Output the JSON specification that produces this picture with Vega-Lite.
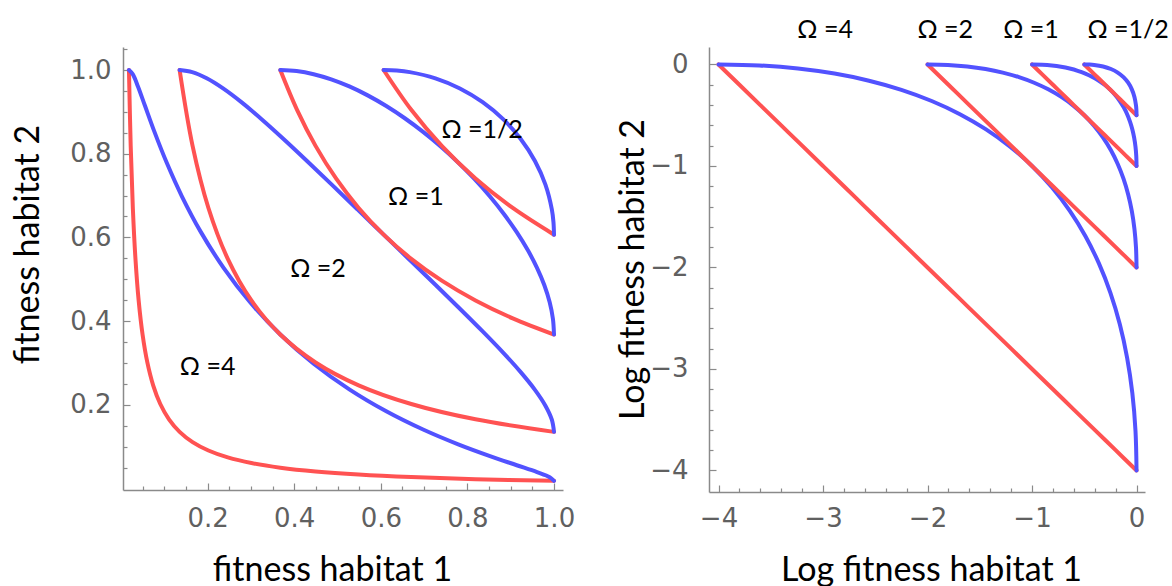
{
  "$schema": "https://vega.github.io/schema/vega-lite/v6.json",
  "autosize": {"type": "none"},
  "bounds": "flush",
  "padding": {"left": 123, "top": 47, "right": 1049, "bottom": 539},
  "spacing": 146,
  "config": {
    "view": {"stroke": null},
    "axis": {
      "grid": false,
      "domainColor": "#8a8a8a",
      "domainWidth": 1.5,
      "tickColor": "#8a8a8a",
      "tickWidth": 1.2,
      "labelColor": "#606060",
      "labelFont": "DejaVu Sans",
      "labelFontSize": 26,
      "labelOverlap": false,
      "labelFlush": false,
      "titleFont": "Lato",
      "titleFontSize": 34,
      "titleFontWeight": "normal",
      "titleColor": "#000000"
    }
  },
  "datasets": {
    "curves": [
      {"s":"1r","c":"r","i":0,"lx":-4,"ly":0,"fx":0.01832,"fy":1},
      {"s":"1r","c":"r","i":1,"lx":-3.8,"ly":-0.2,"fx":0.02237,"fy":0.81873},
      {"s":"1r","c":"r","i":2,"lx":-3.6,"ly":-0.4,"fx":0.02732,"fy":0.67032},
      {"s":"1r","c":"r","i":3,"lx":-3.4,"ly":-0.6,"fx":0.03337,"fy":0.54881},
      {"s":"1r","c":"r","i":4,"lx":-3.2,"ly":-0.8,"fx":0.04076,"fy":0.44933},
      {"s":"1r","c":"r","i":5,"lx":-3.0,"ly":-1.0,"fx":0.04979,"fy":0.36788},
      {"s":"1r","c":"r","i":6,"lx":-2.8,"ly":-1.2,"fx":0.06081,"fy":0.30119},
      {"s":"1r","c":"r","i":7,"lx":-2.6,"ly":-1.4,"fx":0.07427,"fy":0.24660},
      {"s":"1r","c":"r","i":8,"lx":-2.4,"ly":-1.6,"fx":0.09072,"fy":0.20190},
      {"s":"1r","c":"r","i":9,"lx":-2.2,"ly":-1.8,"fx":0.11080,"fy":0.16530},
      {"s":"1r","c":"r","i":10,"lx":-2.0,"ly":-2.0,"fx":0.13534,"fy":0.13534},
      {"s":"1r","c":"r","i":11,"lx":-1.8,"ly":-2.2,"fx":0.16530,"fy":0.11080},
      {"s":"1r","c":"r","i":12,"lx":-1.6,"ly":-2.4,"fx":0.20190,"fy":0.09072},
      {"s":"1r","c":"r","i":13,"lx":-1.4,"ly":-2.6,"fx":0.24660,"fy":0.07427},
      {"s":"1r","c":"r","i":14,"lx":-1.2,"ly":-2.8,"fx":0.30119,"fy":0.06081},
      {"s":"1r","c":"r","i":15,"lx":-1.0,"ly":-3.0,"fx":0.36788,"fy":0.04979},
      {"s":"1r","c":"r","i":16,"lx":-0.8,"ly":-3.2,"fx":0.44933,"fy":0.04076},
      {"s":"1r","c":"r","i":17,"lx":-0.6,"ly":-3.4,"fx":0.54881,"fy":0.03337},
      {"s":"1r","c":"r","i":18,"lx":-0.4,"ly":-3.6,"fx":0.67032,"fy":0.02732},
      {"s":"1r","c":"r","i":19,"lx":-0.2,"ly":-3.8,"fx":0.81873,"fy":0.02237},
      {"s":"1r","c":"r","i":20,"lx":0,"ly":-4,"fx":1,"fy":0.01832},

      {"s":"2b","c":"b","i":0,"lx":-4,"ly":0,"fx":0.01832,"fy":1},
      {"s":"2b","c":"b","i":1,"lx":-3.61,"ly":-0.01,"fx":0.02705,"fy":0.99005},
      {"s":"2b","c":"b","i":2,"lx":-3.24,"ly":-0.04,"fx":0.03916,"fy":0.96079},
      {"s":"2b","c":"b","i":3,"lx":-2.89,"ly":-0.09,"fx":0.05558,"fy":0.91393},
      {"s":"2b","c":"b","i":4,"lx":-2.56,"ly":-0.16,"fx":0.07730,"fy":0.85214},
      {"s":"2b","c":"b","i":5,"lx":-2.25,"ly":-0.25,"fx":0.10540,"fy":0.77880},
      {"s":"2b","c":"b","i":6,"lx":-1.96,"ly":-0.36,"fx":0.14086,"fy":0.69768},
      {"s":"2b","c":"b","i":7,"lx":-1.69,"ly":-0.49,"fx":0.18452,"fy":0.61263},
      {"s":"2b","c":"b","i":8,"lx":-1.44,"ly":-0.64,"fx":0.23693,"fy":0.52729},
      {"s":"2b","c":"b","i":9,"lx":-1.21,"ly":-0.81,"fx":0.29820,"fy":0.44486},
      {"s":"2b","c":"b","i":10,"lx":-1,"ly":-1,"fx":0.36788,"fy":0.36788},
      {"s":"2b","c":"b","i":11,"lx":-0.81,"ly":-1.21,"fx":0.44486,"fy":0.29820},
      {"s":"2b","c":"b","i":12,"lx":-0.64,"ly":-1.44,"fx":0.52729,"fy":0.23693},
      {"s":"2b","c":"b","i":13,"lx":-0.49,"ly":-1.69,"fx":0.61263,"fy":0.18452},
      {"s":"2b","c":"b","i":14,"lx":-0.36,"ly":-1.96,"fx":0.69768,"fy":0.14086},
      {"s":"2b","c":"b","i":15,"lx":-0.25,"ly":-2.25,"fx":0.77880,"fy":0.10540},
      {"s":"2b","c":"b","i":16,"lx":-0.16,"ly":-2.56,"fx":0.85214,"fy":0.07730},
      {"s":"2b","c":"b","i":17,"lx":-0.09,"ly":-2.89,"fx":0.91393,"fy":0.05558},
      {"s":"2b","c":"b","i":18,"lx":-0.04,"ly":-3.24,"fx":0.96079,"fy":0.03916},
      {"s":"2b","c":"b","i":19,"lx":-0.01,"ly":-3.61,"fx":0.99005,"fy":0.02705},
      {"s":"2b","c":"b","i":20,"lx":0,"ly":-4,"fx":1,"fy":0.01832},

      {"s":"3r","c":"r","i":0,"lx":-2,"ly":0,"fx":0.13534,"fy":1},
      {"s":"3r","c":"r","i":1,"lx":-1.8,"ly":-0.2,"fx":0.16530,"fy":0.81873},
      {"s":"3r","c":"r","i":2,"lx":-1.6,"ly":-0.4,"fx":0.20190,"fy":0.67032},
      {"s":"3r","c":"r","i":3,"lx":-1.4,"ly":-0.6,"fx":0.24660,"fy":0.54881},
      {"s":"3r","c":"r","i":4,"lx":-1.2,"ly":-0.8,"fx":0.30119,"fy":0.44933},
      {"s":"3r","c":"r","i":5,"lx":-1,"ly":-1,"fx":0.36788,"fy":0.36788},
      {"s":"3r","c":"r","i":6,"lx":-0.8,"ly":-1.2,"fx":0.44933,"fy":0.30119},
      {"s":"3r","c":"r","i":7,"lx":-0.6,"ly":-1.4,"fx":0.54881,"fy":0.24660},
      {"s":"3r","c":"r","i":8,"lx":-0.4,"ly":-1.6,"fx":0.67032,"fy":0.20190},
      {"s":"3r","c":"r","i":9,"lx":-0.2,"ly":-1.8,"fx":0.81873,"fy":0.16530},
      {"s":"3r","c":"r","i":10,"lx":0,"ly":-2,"fx":1,"fy":0.13534},

      {"s":"4b","c":"b","i":0,"lx":-2,"ly":0,"fx":0.13534,"fy":1},
      {"s":"4b","c":"b","i":1,"lx":-1.805,"ly":-0.005,"fx":0.16447,"fy":0.99501},
      {"s":"4b","c":"b","i":2,"lx":-1.62,"ly":-0.02,"fx":0.19790,"fy":0.98020},
      {"s":"4b","c":"b","i":3,"lx":-1.445,"ly":-0.045,"fx":0.23575,"fy":0.95600},
      {"s":"4b","c":"b","i":4,"lx":-1.28,"ly":-0.08,"fx":0.27804,"fy":0.92312},
      {"s":"4b","c":"b","i":5,"lx":-1.125,"ly":-0.125,"fx":0.32465,"fy":0.88250},
      {"s":"4b","c":"b","i":6,"lx":-0.98,"ly":-0.18,"fx":0.37531,"fy":0.83527},
      {"s":"4b","c":"b","i":7,"lx":-0.845,"ly":-0.245,"fx":0.42956,"fy":0.78270},
      {"s":"4b","c":"b","i":8,"lx":-0.72,"ly":-0.32,"fx":0.48675,"fy":0.72615},
      {"s":"4b","c":"b","i":9,"lx":-0.605,"ly":-0.405,"fx":0.54607,"fy":0.66698},
      {"s":"4b","c":"b","i":10,"lx":-0.5,"ly":-0.5,"fx":0.60653,"fy":0.60653},
      {"s":"4b","c":"b","i":11,"lx":-0.405,"ly":-0.605,"fx":0.66698,"fy":0.54607},
      {"s":"4b","c":"b","i":12,"lx":-0.32,"ly":-0.72,"fx":0.72615,"fy":0.48675},
      {"s":"4b","c":"b","i":13,"lx":-0.245,"ly":-0.845,"fx":0.78270,"fy":0.42956},
      {"s":"4b","c":"b","i":14,"lx":-0.18,"ly":-0.98,"fx":0.83527,"fy":0.37531},
      {"s":"4b","c":"b","i":15,"lx":-0.125,"ly":-1.125,"fx":0.88250,"fy":0.32465},
      {"s":"4b","c":"b","i":16,"lx":-0.08,"ly":-1.28,"fx":0.92312,"fy":0.27804},
      {"s":"4b","c":"b","i":17,"lx":-0.045,"ly":-1.445,"fx":0.95600,"fy":0.23575},
      {"s":"4b","c":"b","i":18,"lx":-0.02,"ly":-1.62,"fx":0.98020,"fy":0.19790},
      {"s":"4b","c":"b","i":19,"lx":-0.005,"ly":-1.805,"fx":0.99501,"fy":0.16447},
      {"s":"4b","c":"b","i":20,"lx":0,"ly":-2,"fx":1,"fy":0.13534},

      {"s":"5r","c":"r","i":0,"lx":-1,"ly":0,"fx":0.36788,"fy":1},
      {"s":"5r","c":"r","i":1,"lx":-0.9,"ly":-0.1,"fx":0.40657,"fy":0.90484},
      {"s":"5r","c":"r","i":2,"lx":-0.8,"ly":-0.2,"fx":0.44933,"fy":0.81873},
      {"s":"5r","c":"r","i":3,"lx":-0.7,"ly":-0.3,"fx":0.49659,"fy":0.74082},
      {"s":"5r","c":"r","i":4,"lx":-0.6,"ly":-0.4,"fx":0.54881,"fy":0.67032},
      {"s":"5r","c":"r","i":5,"lx":-0.5,"ly":-0.5,"fx":0.60653,"fy":0.60653},
      {"s":"5r","c":"r","i":6,"lx":-0.4,"ly":-0.6,"fx":0.67032,"fy":0.54881},
      {"s":"5r","c":"r","i":7,"lx":-0.3,"ly":-0.7,"fx":0.74082,"fy":0.49659},
      {"s":"5r","c":"r","i":8,"lx":-0.2,"ly":-0.8,"fx":0.81873,"fy":0.44933},
      {"s":"5r","c":"r","i":9,"lx":-0.1,"ly":-0.9,"fx":0.90484,"fy":0.40657},
      {"s":"5r","c":"r","i":10,"lx":0,"ly":-1,"fx":1,"fy":0.36788},

      {"s":"6b","c":"b","i":0,"lx":-1,"ly":0,"fx":0.36788,"fy":1},
      {"s":"6b","c":"b","i":1,"lx":-0.9025,"ly":-0.0025,"fx":0.40556,"fy":0.99750},
      {"s":"6b","c":"b","i":2,"lx":-0.81,"ly":-0.01,"fx":0.44486,"fy":0.99005},
      {"s":"6b","c":"b","i":3,"lx":-0.7225,"ly":-0.0225,"fx":0.48554,"fy":0.97775},
      {"s":"6b","c":"b","i":4,"lx":-0.64,"ly":-0.04,"fx":0.52729,"fy":0.96079},
      {"s":"6b","c":"b","i":5,"lx":-0.5625,"ly":-0.0625,"fx":0.56978,"fy":0.93941},
      {"s":"6b","c":"b","i":6,"lx":-0.49,"ly":-0.09,"fx":0.61263,"fy":0.91393},
      {"s":"6b","c":"b","i":7,"lx":-0.4225,"ly":-0.1225,"fx":0.65541,"fy":0.88471},
      {"s":"6b","c":"b","i":8,"lx":-0.36,"ly":-0.16,"fx":0.69768,"fy":0.85214},
      {"s":"6b","c":"b","i":9,"lx":-0.3025,"ly":-0.2025,"fx":0.73897,"fy":0.81669},
      {"s":"6b","c":"b","i":10,"lx":-0.25,"ly":-0.25,"fx":0.77880,"fy":0.77880},
      {"s":"6b","c":"b","i":11,"lx":-0.2025,"ly":-0.3025,"fx":0.81669,"fy":0.73897},
      {"s":"6b","c":"b","i":12,"lx":-0.16,"ly":-0.36,"fx":0.85214,"fy":0.69768},
      {"s":"6b","c":"b","i":13,"lx":-0.1225,"ly":-0.4225,"fx":0.88471,"fy":0.65541},
      {"s":"6b","c":"b","i":14,"lx":-0.09,"ly":-0.49,"fx":0.91393,"fy":0.61263},
      {"s":"6b","c":"b","i":15,"lx":-0.0625,"ly":-0.5625,"fx":0.93941,"fy":0.56978},
      {"s":"6b","c":"b","i":16,"lx":-0.04,"ly":-0.64,"fx":0.96079,"fy":0.52729},
      {"s":"6b","c":"b","i":17,"lx":-0.0225,"ly":-0.7225,"fx":0.97775,"fy":0.48554},
      {"s":"6b","c":"b","i":18,"lx":-0.01,"ly":-0.81,"fx":0.99005,"fy":0.44486},
      {"s":"6b","c":"b","i":19,"lx":-0.0025,"ly":-0.9025,"fx":0.99750,"fy":0.40556},
      {"s":"6b","c":"b","i":20,"lx":0,"ly":-1,"fx":1,"fy":0.36788},

      {"s":"7r","c":"r","i":0,"lx":-0.5,"ly":0,"fx":0.60653,"fy":1},
      {"s":"7r","c":"r","i":1,"lx":-0.4,"ly":-0.1,"fx":0.67032,"fy":0.90484},
      {"s":"7r","c":"r","i":2,"lx":-0.3,"ly":-0.2,"fx":0.74082,"fy":0.81873},
      {"s":"7r","c":"r","i":3,"lx":-0.2,"ly":-0.3,"fx":0.81873,"fy":0.74082},
      {"s":"7r","c":"r","i":4,"lx":-0.1,"ly":-0.4,"fx":0.90484,"fy":0.67032},
      {"s":"7r","c":"r","i":5,"lx":0,"ly":-0.5,"fx":1,"fy":0.60653},

      {"s":"8b","c":"b","i":0,"lx":-0.5,"ly":0,"fx":0.60653,"fy":1},
      {"s":"8b","c":"b","i":1,"lx":-0.45125,"ly":-0.00125,"fx":0.63683,"fy":0.99875},
      {"s":"8b","c":"b","i":2,"lx":-0.405,"ly":-0.005,"fx":0.66698,"fy":0.99501},
      {"s":"8b","c":"b","i":3,"lx":-0.32,"ly":-0.02,"fx":0.72615,"fy":0.98020},
      {"s":"8b","c":"b","i":4,"lx":-0.245,"ly":-0.045,"fx":0.78270,"fy":0.95600},
      {"s":"8b","c":"b","i":5,"lx":-0.18,"ly":-0.08,"fx":0.83527,"fy":0.92312},
      {"s":"8b","c":"b","i":6,"lx":-0.125,"ly":-0.125,"fx":0.88250,"fy":0.88250},
      {"s":"8b","c":"b","i":7,"lx":-0.08,"ly":-0.18,"fx":0.92312,"fy":0.83527},
      {"s":"8b","c":"b","i":8,"lx":-0.045,"ly":-0.245,"fx":0.95600,"fy":0.78270},
      {"s":"8b","c":"b","i":9,"lx":-0.02,"ly":-0.32,"fx":0.98020,"fy":0.72615},
      {"s":"8b","c":"b","i":10,"lx":-0.005,"ly":-0.405,"fx":0.99501,"fy":0.66698},
      {"s":"8b","c":"b","i":11,"lx":-0.00125,"ly":-0.45125,"fx":0.99875,"fy":0.63683},
      {"s":"8b","c":"b","i":12,"lx":0,"ly":-0.5,"fx":1,"fy":0.60653}
    ],
    "labL": [
      {"t":"Ω =1/2","x":0.834,"y":0.8375},
      {"t":"Ω =1","x":0.681,"y":0.677},
      {"t":"Ω =2","x":0.455,"y":0.505},
      {"t":"Ω =4","x":0.200,"y":0.271}
    ],
    "labR": [
      {"t":"Ω =4","x":-2.98,"y":0.261},
      {"t":"Ω =2","x":-1.83,"y":0.261},
      {"t":"Ω =1","x":-1.01,"y":0.261},
      {"t":"Ω =1/2","x":-0.08,"y":0.261}
    ]
  },
  "hconcat": [
    {
      "width": 440,
      "height": 443,
      "resolve": {"axis": {"x": "independent", "y": "independent"}},
      "layer": [
        {
          "data": {"name": "curves"},
          "mark": {"type": "line", "strokeWidth": 4, "interpolate": "catmull-rom", "strokeCap": "round", "strokeJoin": "round"},
          "encoding": {
            "x": {
              "field": "fx", "type": "quantitative",
              "scale": {"domain": [0.0046, 1.0208], "nice": false, "zero": false},
              "axis": {
                "orient": "bottom",
                "values": [0.2, 0.4, 0.6, 0.8, 1.0],
                "format": ".1f",
                "tickSize": -7,
                "labelPadding": 22,
                "labelOverlap": false,
                "labelFlush": false,
                "title": "fitness habitat 1",
                "titleX": 209, "titleY": 90, "titleAlign": "center", "titleBaseline": "alphabetic"
              }
            },
            "y": {
              "field": "fy", "type": "quantitative",
              "scale": {"domain": [-0.0036, 1.055], "nice": false, "zero": false},
              "axis": {
                "orient": "left",
                "values": [0.2, 0.4, 0.6, 0.8, 1.0],
                "format": ".1f",
                "tickSize": -7,
                "labelPadding": 19,
                "labelOverlap": false,
                "labelFlush": false,
                "title": "fitness habitat 2",
                "titleX": -85, "titleY": 197, "titleAlign": "center", "titleBaseline": "alphabetic"
              }
            },
            "detail": {"field": "s"},
            "color": {"field": "c", "type": "nominal", "scale": {"domain": ["r", "b"], "range": ["#ff5252", "#5252ff"]}, "legend": null},
            "order": {"field": "i", "type": "quantitative"}
          }
        },
        {
          "data": {"name": "labL"},
          "mark": {"type": "text", "font": "Lato", "fontSize": 25, "align": "center", "baseline": "alphabetic", "color": "#000000"},
          "encoding": {
            "x": {
              "field": "x", "type": "quantitative",
              "axis": {
                "orient": "bottom",
                "values": [0.05,0.1,0.15,0.25,0.3,0.35,0.45,0.5,0.55,0.65,0.7,0.75,0.85,0.9,0.95],
                "labels": false, "domain": false, "tickSize": -4, "title": null
              }
            },
            "y": {
              "field": "y", "type": "quantitative",
              "axis": {
                "orient": "left",
                "values": [0.05,0.1,0.15,0.25,0.3,0.35,0.45,0.5,0.55,0.65,0.7,0.75,0.85,0.9,0.95,1.05],
                "labels": false, "domain": false, "tickSize": -4, "title": null
              }
            },
            "text": {"field": "t"}
          }
        }
      ]
    },
    {
      "width": 436,
      "height": 445,
      "resolve": {"axis": {"x": "independent", "y": "independent"}},
      "layer": [
        {
          "data": {"name": "curves"},
          "mark": {"type": "line", "strokeWidth": 4, "interpolate": "catmull-rom", "strokeCap": "round", "strokeJoin": "round"},
          "encoding": {
            "x": {
              "field": "lx", "type": "quantitative",
              "scale": {"domain": [-4.091, 0.081], "nice": false, "zero": false},
              "axis": {
                "orient": "bottom",
                "values": [-4, -3, -2, -1, 0],
                "format": "d",
                "tickSize": -7,
                "labelPadding": 20,
                "labelOverlap": false,
                "labelFlush": false,
                "title": "Log fitness habitat 1",
                "titleX": 222, "titleY": 88, "titleAlign": "center", "titleBaseline": "alphabetic"
              }
            },
            "y": {
              "field": "ly", "type": "quantitative",
              "scale": {"domain": [-4.212, 0.172], "nice": false, "zero": false},
              "axis": {
                "orient": "left",
                "values": [-4, -3, -2, -1, 0],
                "format": "d",
                "tickSize": -7,
                "labelPadding": 28,
                "labelOverlap": false,
                "labelFlush": false,
                "title": "Log fitness habitat 2",
                "titleX": -66, "titleY": 222, "titleAlign": "center", "titleBaseline": "alphabetic"
              }
            },
            "detail": {"field": "s"},
            "color": {"field": "c", "type": "nominal", "scale": {"domain": ["r", "b"], "range": ["#ff5252", "#5252ff"]}, "legend": null},
            "order": {"field": "i", "type": "quantitative"}
          }
        },
        {
          "data": {"name": "labR"},
          "mark": {"type": "text", "font": "Lato", "fontSize": 25, "align": "center", "baseline": "alphabetic", "color": "#000000"},
          "encoding": {
            "x": {
              "field": "x", "type": "quantitative",
              "axis": {
                "orient": "bottom",
                "values": [-3.8,-3.6,-3.4,-3.2,-2.8,-2.6,-2.4,-2.2,-1.8,-1.6,-1.4,-1.2,-0.8,-0.6,-0.4,-0.2],
                "labels": false, "domain": false, "tickSize": -4, "title": null
              }
            },
            "y": {
              "field": "y", "type": "quantitative",
              "axis": {
                "orient": "left",
                "values": [-3.8,-3.6,-3.4,-3.2,-2.8,-2.6,-2.4,-2.2,-1.8,-1.6,-1.4,-1.2,-0.8,-0.6,-0.4,-0.2],
                "labels": false, "domain": false, "tickSize": -4, "title": null
              }
            },
            "text": {"field": "t"}
          }
        }
      ]
    }
  ]
}
